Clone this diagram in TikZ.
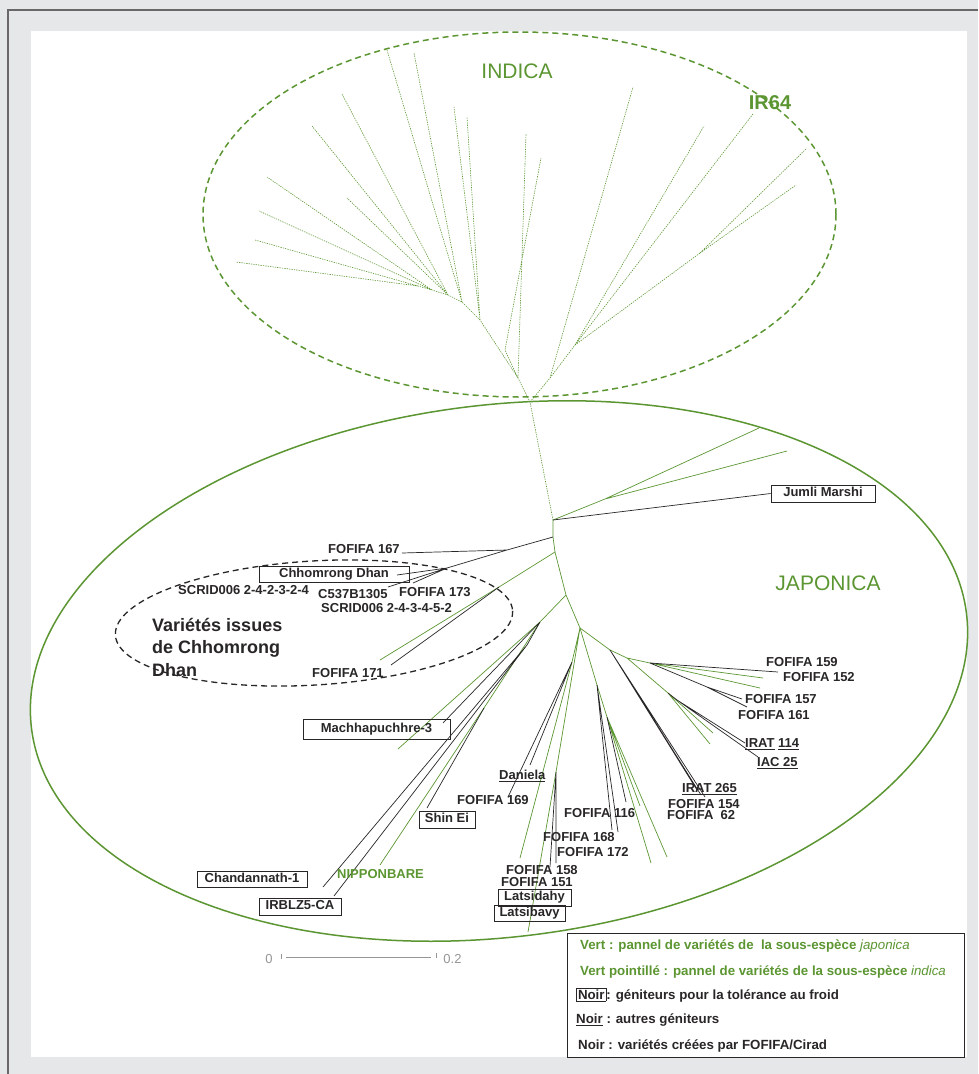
\documentclass[tikz,border=0pt]{standalone}
\usepackage{fontspec}
\setmainfont{Liberation Sans}
\usepackage{xcolor}
\usetikzlibrary{positioning}
\definecolor{vert}{RGB}{92,150,50}
\definecolor{fond}{RGB}{230,231,232}
\definecolor{encre}{RGB}{40,38,38}
\definecolor{gris}{RGB}{150,150,150}
\setlength{\fboxsep}{1pt}
\setlength{\fboxrule}{0.8pt}

\begin{document}
\begin{tikzpicture}[x=1pt,y=-1pt,
  ind/.style={vert,line width=0.6pt,dash pattern=on 1.3pt off 1.1pt},
  jap/.style={vert,line width=0.7pt},
  noir/.style={encre,line width=0.7pt},
  lbl/.style={font=\fontsize{13}{15}\selectfont\bfseries,text=encre,inner sep=0pt,anchor=base west},
  leg/.style={font=\fontsize{13.3}{15}\selectfont\bfseries,text=encre,inner sep=0pt,anchor=base west},
  grand/.style={font=\fontsize{18}{22}\selectfont\bfseries,text=encre,inner sep=0pt,anchor=base west},
  boite/.style={draw=encre,line width=0.8pt,font=\fontsize{13}{15}\selectfont\bfseries,text=encre,
    inner sep=0pt,text height=9.4pt,text depth=2.6pt}]
\useasboundingbox (0,0) rectangle (978,1074);
\fill[fond] (0,0) rectangle (978,1074);
\draw[encre!70,line width=1.2pt] (8,1074)--(8,10)--(978,10);
\fill[white] (31,31) rectangle (967,1057);

% ellipses des groupes
\draw[vert,line width=1.5pt,dash pattern=on 6pt off 4pt] (519.5,214.5) ellipse [x radius=316.5,y radius=182.5];
\draw[vert,line width=1.5pt,rotate around={7:(499,671)}] (499,671) ellipse [x radius=471,y radius=266];
\draw[encre,line width=1.3pt,dash pattern=on 6pt off 4pt,rotate around={3.5:(314,623)}] (314,623) ellipse [x radius=199,y radius=62];

% noeuds internes indica
\coordinate (I0) at (530,402); \coordinate (I1) at (518,378); \coordinate (I2) at (550,378);
\coordinate (I3) at (575,345); \coordinate (I4) at (700,253); \coordinate (I6) at (505,350);
\coordinate (I7) at (480,320); \coordinate (I8) at (462,302); \coordinate (I9) at (448,295);
\coordinate (I10) at (432,290); \coordinate (I11) at (418,286);
% feuilles indica
\coordinate (i1) at (236,262); \coordinate (i2) at (255,240); \coordinate (i3) at (259,211);
\coordinate (i4) at (267,177); \coordinate (i5) at (347,198); \coordinate (i6) at (312,126);
\coordinate (i7) at (342,94); \coordinate (i8) at (387,50); \coordinate (i9) at (414,53);
\coordinate (i10) at (454,107); \coordinate (i11) at (467,117); \coordinate (i12) at (526,134);
\coordinate (i13) at (541,158); \coordinate (i14) at (633,87); \coordinate (i15) at (704,126);
\coordinate (i16) at (753,114); \coordinate (i17) at (807,148); \coordinate (i18) at (796,185);

% noeuds internes japonica
\coordinate (S0) at (553,520); \coordinate (S1) at (553,537); \coordinate (S2) at (555,552);
\coordinate (S3) at (566,595); \coordinate (S4) at (580,628);
\coordinate (Ja) at (605,499); \coordinate (K1) at (507,550); \coordinate (K2) at (447,568);
\coordinate (G1) at (499,587); \coordinate (L1) at (540,622); \coordinate (L2) at (527,645);
\coordinate (L3) at (484,708); \coordinate (B1) at (572,662); \coordinate (B2) at (556,772);
\coordinate (C1) at (597,685); \coordinate (C2) at (607,717); \coordinate (R1) at (610,650);
\coordinate (R2) at (627,658); \coordinate (R3) at (650,663); \coordinate (R4) at (668,693);
\coordinate (R5) at (677,700); \coordinate (R6) at (707,687);
% feuilles japonica
\coordinate (ja1) at (759,428); \coordinate (ja2) at (787,451);
\coordinate (t167) at (402,553); \coordinate (tchh) at (397,575); \coordinate (tc537) at (388,587);
\coordinate (t173) at (413,583); \coordinate (g1) at (380,660); \coordinate (t171) at (391,665);
\coordinate (l1) at (398,749); \coordinate (tmac) at (443,723); \coordinate (tcha) at (323,887);
\coordinate (tirb) at (334,896); \coordinate (tnip) at (380,865); \coordinate (tshin) at (427,808);
\coordinate (b1) at (520,858); \coordinate (b2) at (528,932); \coordinate (tdan) at (530,765);
\coordinate (t169) at (508,797); \coordinate (b2a) at (550,867); \coordinate (b2b) at (556,863);
\coordinate (c1a) at (612,830); \coordinate (c1b) at (618,832); \coordinate (t116) at (626,802);
\coordinate (c2a) at (640,806); \coordinate (c2b) at (651,863); \coordinate (c2c) at (667,857);
\coordinate (r1a) at (697,790); \coordinate (r1b) at (701,795); \coordinate (r1c) at (705,797);
\coordinate (r3a) at (763,678); \coordinate (r3b) at (760,688); \coordinate (t159) at (778,672);
\coordinate (t157) at (742,699); \coordinate (t161) at (747,707); \coordinate (r4a) at (713,733);
\coordinate (r4b) at (710,744); \coordinate (t114) at (745,743); \coordinate (tiac) at (758,757);

% branches indica (pointillé)
\draw[ind] (S0)--(I0)--(I1)--(I7)--(I8)--(I9)--(I10)--(I11)--(i1) (I11)--(i2)
  (I10)--(i3) (I10)--(i4) (I9)--(i5) (I9)--(i6) (I9)--(i7) (I8)--(i8) (I8)--(i9)
  (I7)--(i10) (I7)--(i11) (I1)--(i12) (I1)--(I6)--(i13)
  (I0)--(I2)--(i14) (I2)--(I3)--(i15) (I3)--(i16) (I3)--(I4)--(i17) (I4)--(i18);

% branches japonica
\draw[jap] (S0)--(S1)--(S2)--(S3)--(S4);
\draw[jap] (S0)--(Ja)--(ja1) (Ja)--(ja2);
\draw[jap] (S2)--(G1)--(g1);
\draw[jap] (S3)--(L1)--(l1) (L1)--(L3)--(tnip);
\draw[jap] (S4)--(B1)--(b1) (S4)--(B2)--(b2);
\draw[jap] (S4)--(C1)--(C2)--(c2a) (C2)--(c2b) (C2)--(c2c);
\draw[jap] (S4)--(R1)--(R2)--(R3)--(r3a) (R3)--(r3b) (R2)--(R4)--(r4a) (R4)--(r4b);
\draw[noir] (S1)--(K1)--(t167) (K1)--(K2)--(tchh) (K2)--(tc537) (K2)--(t173);
\draw[noir] (G1)--(t171);
\draw[noir] (L1)--(tmac) (L1)--(L2)--(tcha) (L2)--(tirb) (L3)--(tshin);
\draw[noir] (B1)--(tdan) (B1)--(t169) (B2)--(b2a) (B2)--(b2b);
\draw[noir] (C1)--(c1a) (C1)--(c1b) (C2)--(t116);
\draw[noir] (R1)--(r1a) (R1)--(r1b) (R1)--(r1c);
\draw[noir] (R3)--(t159) (R3)--(R6)--(t157) (R6)--(t161) (R4)--(R5)--(t114) (R5)--(tiac);

% geniteurs encadres
\node[boite,minimum width=104pt,minimum height=17pt] (jumli) at (823,493.5) {Jumli Marshi};
\draw[noir] (S0)--(jumli.west);
\node[boite,minimum width=150pt,minimum height=16pt] (chhomrong) at (334,574) {Chhomrong Dhan};
\node[boite,minimum width=147pt,minimum height=20pt] (machha) at (376.5,729) {Machhapuchhre-3};
\node[boite,minimum width=110pt,minimum height=16pt] (chandan) at (252,879) {Chandannath-1};
\node[boite,minimum width=82pt,minimum height=17pt] (irblz) at (300,906.5) {IRBLZ5-CA};
\node[boite,minimum width=56pt,minimum height=17pt] (shinei) at (447,819.5) {Shin Ei};
\node[boite,minimum width=73pt,minimum height=17pt] (latsidahy) at (534.5,897.5) {Latsidahy};
\node[boite,minimum width=71pt,minimum height=16pt] (latsibavy) at (529.5,913) {Latsibavy};

% autres noms
\node[lbl] (f167) at (328,553.6) {FOFIFA 167};
\node[lbl] (scrida) at (178,594.6) {SCRID006 2-4-2-3-2-4};
\node[lbl] (c537) at (318,598.6) {C537B1305};
\node[lbl] (f173) at (399,596.6) {FOFIFA 173};
\node[lbl] (scridb) at (321,612.6) {SCRID006 2-4-3-4-5-2};
\node[lbl] (f171) at (312,677.6) {FOFIFA 171};
\node[lbl] (daniela) at (499,779.6) {\underline{Daniela}};
\node[lbl] (f169) at (457,804.6) {FOFIFA 169};
\node[lbl] (f116) at (564,817.6) {FOFIFA 116};
\node[lbl] (f168) at (543,841.6) {FOFIFA 168};
\node[lbl] (f172) at (557,856.6) {FOFIFA 172};
\node[lbl] (f158) at (506,874.6) {FOFIFA 158};
\node[lbl] (f151) at (501,886.6) {FOFIFA 151};
\node[lbl] (f159) at (766,666) {FOFIFA 159};
\node[lbl] (f152) at (783,681.6) {FOFIFA 152};
\node[lbl] (f157) at (745,703.6) {FOFIFA 157};
\node[lbl] (f161) at (738,719.6) {FOFIFA 161};
\node[lbl] (irat114) at (745,747.6) {\underline{IRAT} \underline{114}};
\node[lbl] (iac25) at (757,766.6) {\underline{IAC 25}};
\node[lbl] (irat265) at (682,792.6) {\underline{IRAT 265}};
\node[lbl] (f154) at (668,808.6) {FOFIFA 154};
\node[lbl] (f62) at (667,819.6) {FOFIFA\ \ 62};
\node[lbl,text=vert] (nippon) at (337,878.6) {NIPPONBARE};

\node[grand] (var1) at (152,631.5) {Variétés issues};
\node[grand] (var2) at (152,653.5) {de Chhomrong};
\node[grand] (var3) at (152,676.5) {Dhan};

% noms des sous-especes
\node[font=\fontsize{21}{25}\selectfont,text=vert] (indica) at (517,71) {INDICA};
\node[font=\fontsize{20}{24}\selectfont\bfseries,text=vert] (ir64) at (770,103) {IR64};
\node[font=\fontsize{21}{25}\selectfont,text=vert] (japonica) at (828,583) {JAPONICA};

% echelle
\coordinate (e0) at (286,957); \coordinate (e1) at (431,957);
\draw[gris,line width=0.8pt] (e0)--(e1);
\draw[gris,line width=0.6pt] (281,954)--(281,959) (436,953)--(436,958);
\node[font=\fontsize{13}{15}\selectfont,text=gris] (zero) at (269,959) {0};
\node[font=\fontsize{13}{15}\selectfont,text=gris] (deux) at (452.5,959) {0.2};

% legende
\draw[encre,line width=1pt] (567,933) rectangle (964,1057);
\node[leg,text=vert] (leg1) at (580,949.5) {Vert : pannel de variétés de\ \ la sous-espèce {\mdseries\itshape japonica}};
\node[leg,text=vert] (leg2) at (580,975.5) {Vert pointillé : pannel de variétés de la sous-espèce {\mdseries\itshape indica}};
\node[leg] (leg3) at (576,999.5) {\fbox{Noir}: géniteurs pour la tolérance au froid};
\node[leg] (leg4) at (576,1023.5) {\underline{Noir} : autres géniteurs};
\node[leg] (leg5) at (578,1049.5) {Noir : variétés créées par FOFIFA/Cirad};
\end{tikzpicture}
\end{document}
